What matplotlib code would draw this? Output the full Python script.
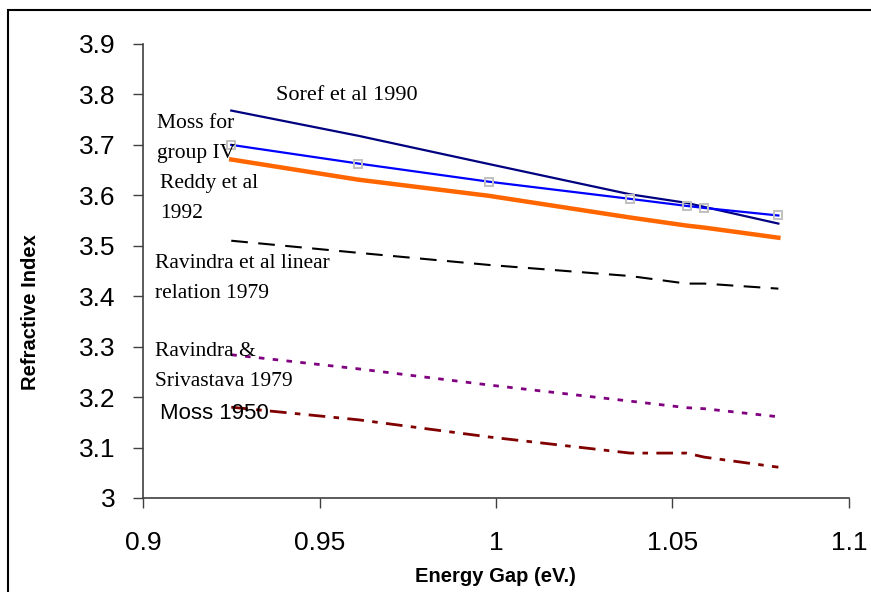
import matplotlib
matplotlib.use("Agg")
import matplotlib.pyplot as plt
from matplotlib.patches import Rectangle

# energy gap values (eV) shared by every curve
energy_gap = [0.925, 0.961, 0.998, 1.038, 1.054, 1.059, 1.080]

soref_1990 = [3.768, 3.718, 3.662, 3.602, 3.585, 3.577, 3.544]
moss_group_iv = [3.700, 3.663, 3.627, 3.593, 3.579, 3.575, 3.560]
reddy_1992 = [3.671, 3.631, 3.599, 3.556, 3.540, 3.536, 3.516]
ravindra_linear = [3.510, 3.486, 3.462, 3.440, 3.425, 3.425, 3.415]
ravindra_srivastava = [3.284, 3.256, 3.224, 3.192, 3.179, 3.177, 3.161]
moss_1950 = [3.180, 3.155, 3.121, 3.089, 3.089, 3.081, 3.061]

x_ticks = [0.9, 0.95, 1.0, 1.05, 1.1]
x_tick_labels = ["0.9", "0.95", "1", "1.05", "1.1"]
y_ticks = [3.0, 3.1, 3.2, 3.3, 3.4, 3.5, 3.6, 3.7, 3.8, 3.9]
y_tick_labels = ["3", "3.1", "3.2", "3.3", "3.4", "3.5", "3.6", "3.7", "3.8", "3.9"]

serif = "Liberation Serif"
sans = "Liberation Sans"

fig = plt.figure(figsize=(8.71, 5.92), dpi=100)
ax = fig.add_axes([0.1642, 0.1588, 0.8105, 0.7669])

ax.plot(energy_gap, soref_1990, color="#000080", lw=1.6)
ax.plot(energy_gap, moss_group_iv, color="#0000ff", lw=1.6, marker="s",
        ms=5.5, mfc="none", mec="#c0c0c0", mew=1.4)
ax.plot(energy_gap, reddy_1992, color="#ff6600", lw=3.2)
ax.plot(energy_gap, ravindra_linear, color="black", lw=1.5, ls=(0, (8, 5)))
ax.plot(energy_gap, ravindra_srivastava, color="#800080", lw=2.0, ls=(0, (2, 3)))
ax.plot(energy_gap, moss_1950, color="#800000", lw=2.0, ls=(0, (6, 3, 2, 3)))

ax.set_xlim(0.9, 1.1)
ax.set_ylim(3.0, 3.9)
ax.set_xticks(x_ticks)
ax.set_xticklabels(x_tick_labels, fontsize=19, family=sans)
ax.set_yticks(y_ticks)
ax.set_yticklabels(y_tick_labels, fontsize=19, family=sans)
ax.tick_params(direction="out", length=7, width=1, color="#404040")
ax.tick_params(axis="y", pad=13)
ax.tick_params(axis="x", pad=17)
for side in ("top", "right"):
    ax.spines[side].set_visible(False)
for side in ("left", "bottom"):
    ax.spines[side].set_color("#404040")
    ax.spines[side].set_linewidth(1.2)

ax.set_xlabel("Energy Gap (eV.)", fontsize=14.5, fontweight="bold", family=sans)
ax.set_ylabel("Refractive Index", fontsize=14.5, fontweight="bold", family=sans)
ax.xaxis.set_label_coords(0.4986, -0.152)
ax.yaxis.set_label_coords(-0.146, 0.41)

# curve labels, placed as in the original
ax.text(0.9377, 3.798, "Soref et al 1990", fontsize=16, family=serif, va="center")
ax.text(0.9040, 3.712, "Moss for\ngroup IV", fontsize=15.5, family=serif,
        va="center", linespacing=1.8)
ax.text(0.9048, 3.593, "Reddy et al\n1992", fontsize=15.5, family=serif,
        va="center", linespacing=1.8)
ax.text(0.9034, 3.4345, "Ravindra et al linear\nrelation 1979", fontsize=15.5,
        family=serif, va="center", linespacing=1.8)
ax.text(0.9034, 3.260, "Ravindra &\nSrivastava 1979", fontsize=15.5,
        family=serif, va="center", linespacing=1.8)
ax.text(0.9048, 3.167, "Moss 1950", fontsize=16, family=sans, va="center")

# outer chart-area frame
fig.patches.append(Rectangle((8 / 871, -0.05), 1.0, 1 - 10 / 592 + 0.05,
                             transform=fig.transFigure, fill=False,
                             edgecolor="black", lw=1.5))

fig.savefig("out.png", dpi=100)
